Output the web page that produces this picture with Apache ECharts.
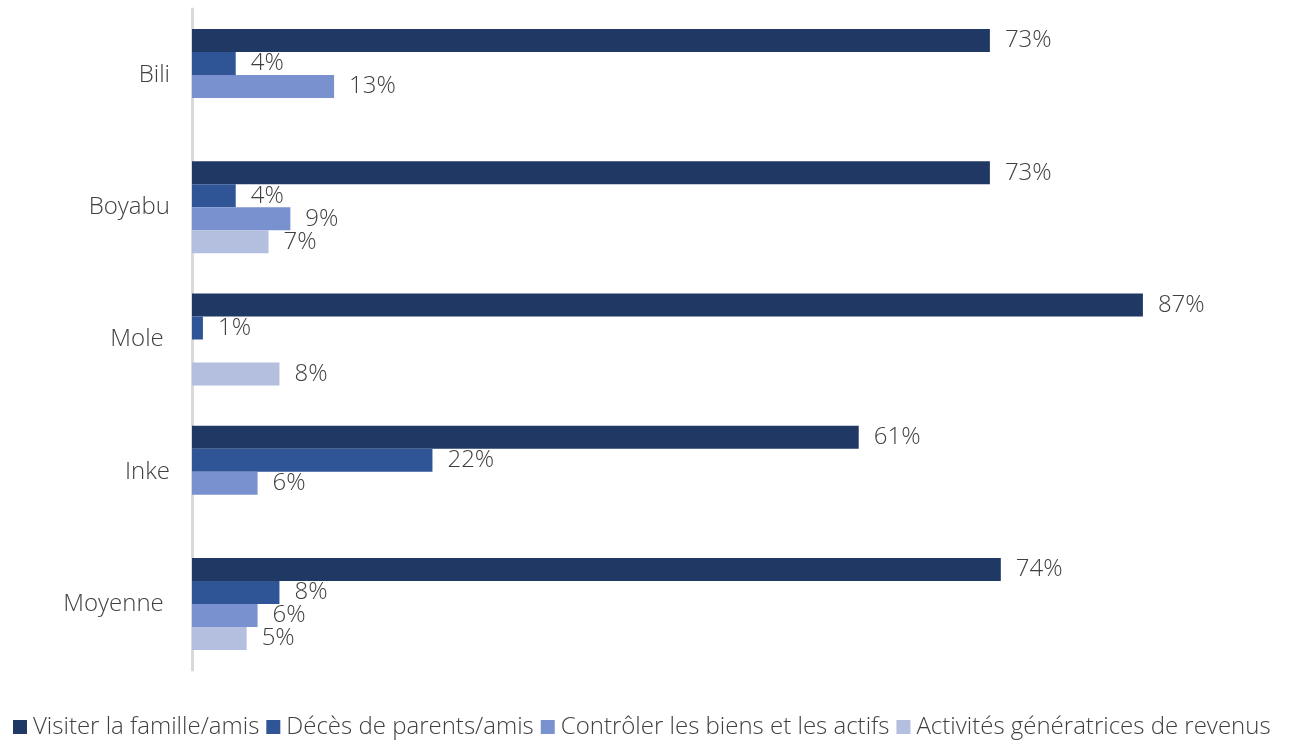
<!DOCTYPE html>
<html>
<head>
<meta charset="utf-8">
<script src="https://cdn.jsdelivr.net/npm/echarts@6/dist/echarts.min.js"></script>
<style>
  html, body { margin: 0; padding: 0; background: #ffffff; }
  #chart { width: 1297px; height: 745px; }
</style>
</head>
<body>
<div id="chart"></div>
<script>
// Sites and the share of trips by reason (percent)
const categories = ['Bili', 'Boyabu', 'Mole ', 'Inke', 'Moyenne '];
const seriesNames = [
  'Visiter la famille/amis',
  'Décès de parents/amis',
  'Contrôler les biens et les actifs',
  'Activités génératrices de revenus'
];
const visiter   = [73, 73, 87, 61, 74];
const deces     = [4, 4, 1, 22, 8];
const controler = [13, 9, null, 6, 6];
const activites = [null, 7, 8, null, 5];

const colors = ['#203864', '#2F5597', '#7A91CF', '#B4BFDF'];
const valueSets = [visiter, deces, controler, activites];
const fontFamily = '"Open Sans", Lato, sans-serif';

const chart = echarts.init(document.getElementById('chart'), null, { renderer: 'canvas' });

chart.setOption({
  animation: false,
  color: colors,
  grid: { left: 192, top: 9, width: 1093, height: 661, containLabel: false },
  legend: {
    bottom: 1,
    left: 8,
    icon: 'rect',
    itemWidth: 14,
    itemHeight: 14,
    itemGap: 7,
    textStyle: { fontFamily: fontFamily, fontSize: 24, fontWeight: 300, color: '#404040', padding: [0, 0, 0, 1] },
    data: seriesNames
  },
  xAxis: {
    type: 'value',
    min: 0,
    max: 100,
    show: false
  },
  yAxis: {
    type: 'category',
    inverse: true,
    data: categories,
    axisLine: { show: true, lineStyle: { color: '#D9D9D9', width: 3 } },
    axisTick: { show: false },
    axisLabel: { fontFamily: fontFamily, fontSize: 24, fontWeight: 300, color: '#404040', margin: 22 }
  },
  series: seriesNames.map((name, i) => ({
    name: name,
    type: 'bar',
    barWidth: 23,
    barGap: '0%',
    data: valueSets[i].map(v => (v === null ? '-' : v)),
    itemStyle: { color: colors[i] },
    label: {
      show: true,
      position: 'right',
      distance: 15,
      fontFamily: fontFamily,
      fontSize: 24,
      fontWeight: 300,
      color: '#404040',
      formatter: p => p.value + '%'
    }
  }))
});
</script>
</body>
</html>
